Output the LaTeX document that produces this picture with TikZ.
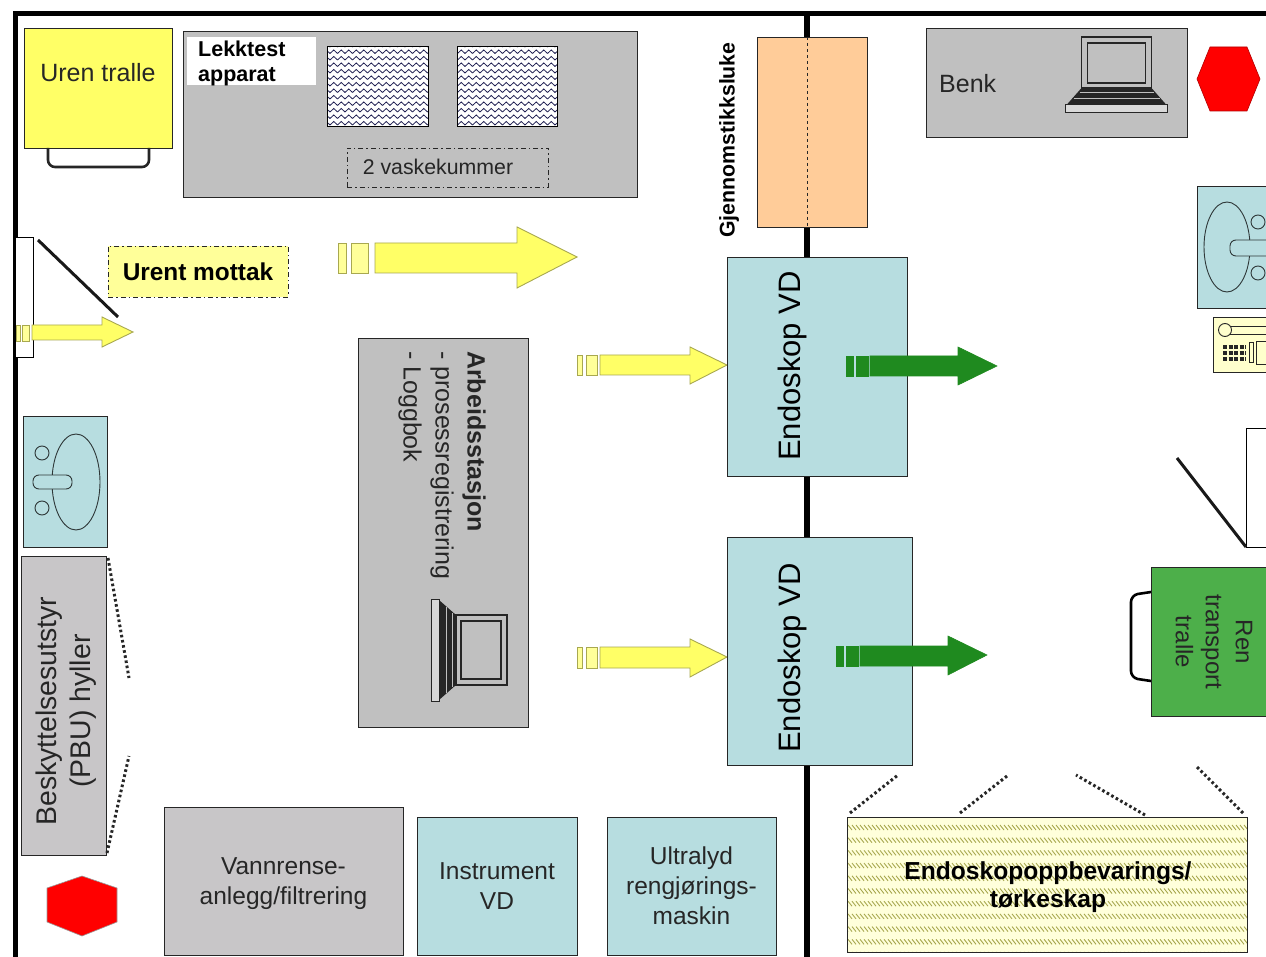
\documentclass[tikz,border=0pt]{standalone}
\usepackage{fontspec}
\setmainfont{Liberation Sans}
\usepackage{xcolor}
\usepackage{tikz}
\usetikzlibrary{positioning,patterns}

\definecolor{roomblue}{HTML}{B7DDE0}
\definecolor{roomgray}{HTML}{C0C0C0}
\definecolor{shelfgray}{HTML}{C8C6C8}
\definecolor{uren}{HTML}{FFFF66}
\definecolor{urenlight}{HTML}{FFFF99}
\definecolor{arrowedge}{HTML}{A8A850}
\definecolor{rengreen}{HTML}{4DAF4A}
\definecolor{darkgreen}{HTML}{1F8A1F}
\definecolor{luke}{HTML}{FFCC99}
\definecolor{phone}{HTML}{FFFFCC}
\definecolor{ink}{HTML}{262626}

\pgfdeclarepatternformonly{zigwave}{\pgfqpoint{-1pt}{-1pt}}{\pgfqpoint{8.5pt}{7.5pt}}{\pgfqpoint{7.5pt}{6.5pt}}{
  \pgfsetlinewidth{.8pt}
  \pgfpathmoveto{\pgfqpoint{0pt}{0pt}}
  \pgfpathlineto{\pgfqpoint{3.75pt}{3.5pt}}
  \pgfpathlineto{\pgfqpoint{7.5pt}{0pt}}
  \pgfusepath{stroke}
}
\pgfdeclarepatternformonly{bandhatch}{\pgfqpoint{-1pt}{-1pt}}{\pgfqpoint{5pt}{13.7pt}}{\pgfqpoint{4pt}{12.7pt}}{
  \pgfsetlinewidth{.9pt}
  \pgfpathmoveto{\pgfqpoint{0pt}{5pt}}
  \pgfpathlineto{\pgfqpoint{4pt}{0pt}}
  \pgfusepath{stroke}
}

\tikzset{
  fixture/.style={draw=ink, line width=.9pt, inner sep=0pt, align=center, text=ink},
  bluebox/.style={fixture, fill=roomblue},
  graybox/.style={fixture, fill=roomgray},
  dashbox/.style={draw=ink, line width=.8pt, dash pattern=on 5pt off 3pt on 1.5pt off 3pt, inner sep=0pt},
  wall/.style={line width=5pt, black},
  door/.style={line width=3pt, black!90},
  shelfdots/.style={line width=3pt, ink, dash pattern=on 2.6pt off 2.6pt},
  yflow/.style={draw=arrowedge, line width=.9pt, fill=uren},
  ystub/.style={draw=arrowedge, line width=.9pt, fill=urenlight},
  gflow/.style={draw=darkgreen, line width=.6pt, fill=darkgreen},
  sinkline/.style={draw=black!75!roomblue, line width=.9pt},
  alarm/.style={draw=red!70!black, line width=.6pt, fill=red},
  txtm/.style={font=\fontsize{24.5}{30}\selectfont, align=center, text=ink},
  txtb/.style={font=\fontsize{24.4}{28}\selectfont\bfseries},
  laptop/.pic={
    \draw[ink, line width=1pt, fill=roomgray!60!white] (-51,-8) rectangle (51,0);
    \fill[ink] (-35,-25) -- (35,-25) -- (50,-8) -- (-50,-8) -- cycle;
    \draw[roomgray, line width=.8pt] (-37,-21) -- (37,-21) (-43,-15) -- (43,-15);
    \draw[ink, line width=1.2pt, fill=roomgray] (-35,-76) rectangle (35,-25);
    \draw[ink, line width=1.2pt] (-29,-70) rectangle (29,-30);
  }
}

\begin{document}
\begin{tikzpicture}[x=1pt, y=-1pt]
\useasboundingbox (0,0) rectangle (1266,957);

% Walls
\draw[wall] (1266,14) -- (15,14) -- (15,957);
\draw[wall, line width=6pt] (807,14) -- (807,957);

% Top row
\node[fixture, fill=uren, minimum width=148pt, minimum height=120pt] (trolley) at (98,88) {};
\node[font=\fontsize{25}{30}\selectfont, text=ink] (trolleytxt) at (98,73) {Uren tralle};
\draw[ink, line width=2.6pt, rounded corners=7pt] (48,148) -- (48,167) -- (149,167) -- (149,148);
\node[graybox, minimum width=454pt, minimum height=166pt] (lekk) at (410,114) {};
\node[fill=white, minimum width=129pt, minimum height=48pt, inner sep=0pt] (lekkbg) at (251.5,61) {};
\node[font=\fontsize{21.5}{25}\selectfont\bfseries, align=left, anchor=west, inner sep=0pt] (lekktxt) at (198,63) {Lekktest\\apparat};
\node[draw=black, line width=1pt, preaction={fill=white}, pattern=zigwave, pattern color=ink!80!blue, minimum width=101pt, minimum height=80pt, inner sep=0pt] (kum1) at (377.5,87) {};
\node[draw=black, line width=1pt, preaction={fill=white}, pattern=zigwave, pattern color=ink!80!blue, minimum width=100pt, minimum height=80pt, inner sep=0pt] (kum2) at (507,87) {};
\node[dashbox, minimum width=201pt, minimum height=39pt] (kummer) at (447.5,167.5) {};
\node[font=\fontsize{21.3}{24}\selectfont, text=ink] (kummertxt) at (438,167) {2 vaskekummer};

% Hatch with the wall behind it
\node[fixture, fill=luke, minimum width=110pt, minimum height=190pt] (luke) at (812,132) {};
\draw[ink, line width=.9pt, dashed] (807,37) -- (807,227);
\node[rotate=90, font=\fontsize{21.3}{25}\selectfont\bfseries] (luketxt) at (729,140) {Gjennomstikksluke};

% Bench
\node[graybox, minimum width=261pt, minimum height=109pt] (benk) at (1056.5,82.5) {};
\node[font=\fontsize{25}{28}\selectfont, text=ink, anchor=west, inner sep=0pt] (benktxt) at (939,84) {Benk};
\pic at (1116.5,113) {laptop};
\draw[alarm] (1197,79) -- (1210,47) -- (1247,47) -- (1260,79) -- (1247,111) -- (1210,111) -- cycle;

% Entrance
\node[draw=black, fill=white, line width=.8pt, minimum width=18pt, minimum height=120pt, inner sep=0pt] (doorl) at (24,297) {};
\draw[door] (38,240) -- (118,317);
\node[dashbox, fill=urenlight, minimum width=180pt, minimum height=51pt, txtb] (mottak) at (198,271.5) {Urent mottak};

% Flow arrows, dirty side
\draw[ystub] (338,243) rectangle (346,273);
\draw[ystub] (351,243) rectangle (368,273);
\draw[yflow] (375,243) -- (517,243) -- (517,227) -- (577,257) -- (517,288) -- (517,273) -- (375,273) -- cycle;
\draw[ystub] (16,325) rectangle (20,341);
\draw[ystub] (22,325) rectangle (29,341);
\draw[yflow] (32,325) -- (102,325) -- (102,317) -- (133,332) -- (102,347) -- (102,340) -- (32,340) -- cycle;
\draw[ystub] (577,355) rectangle (582,375);
\draw[ystub] (586,355) rectangle (597,375);
\draw[yflow] (600,355) -- (690,355) -- (690,347) -- (727,365) -- (690,384) -- (690,375) -- (600,375) -- cycle;
\draw[ystub] (577,647) rectangle (582,668);
\draw[ystub] (586,647) rectangle (597,668);
\draw[yflow] (600,647) -- (690,647) -- (690,639) -- (727,657) -- (690,677) -- (690,668) -- (600,668) -- cycle;

% Work station
\node[graybox, minimum width=170pt, minimum height=389pt] (arbeid) at (443,532.5) {};
\node[rotate=-90, anchor=north west, align=left, inner sep=0pt, text=ink, font=\fontsize{25}{32}\selectfont] (arbeidtxt) at (486,351) {{\bfseries Arbeidsstasjon}\\- prosessregistrering\\- Loggbok};
\pic[rotate=-90] at (431,650) {laptop};

% Washers
\node[bluebox, minimum width=180pt, minimum height=219pt] (vd1) at (817,366.5) {};
\node[rotate=90, font=\fontsize{31}{36}\selectfont] (vd1txt) at (792,366) {Endoskop VD};
\node[bluebox, minimum width=185pt, minimum height=228pt] (vd2) at (819.5,651) {};
\node[rotate=90, font=\fontsize{31}{36}\selectfont] (vd2txt) at (792,658) {Endoskop VD};

% Flow arrows, clean side
\draw[gflow] (846,356) rectangle (853,376);
\draw[gflow] (856,356) rectangle (868,376);
\draw[gflow] (870,356) -- (958,356) -- (958,347) -- (997,366) -- (958,385) -- (958,376) -- (870,376) -- cycle;
\draw[gflow] (836,646) rectangle (843,666);
\draw[gflow] (846,646) rectangle (858,666);
\draw[gflow] (860,646) -- (948,646) -- (948,636) -- (987,655) -- (948,675) -- (948,666) -- (860,666) -- cycle;

% Sink, right
\node[bluebox, minimum width=75pt, minimum height=122pt] (sinkr) at (1234.5,247) {};
\draw[sinkline] (1227,247) ellipse (23 and 45);
\draw[sinkline] (1258,222) circle (7);
\draw[sinkline] (1258,273) circle (7);
\draw[sinkline, fill=roomblue, rounded corners=6pt] (1280,240) -- (1230,240) -- (1230,256) -- (1280,256);

% Phone
\node[fixture, fill=phone, minimum width=59pt, minimum height=55pt] (phone) at (1242.5,344.5) {};
\draw[ink, line width=.9pt] (1230,326) -- (1270,326) (1230,334) -- (1270,334);
\draw[ink, line width=.9pt, fill=phone] (1225,330) circle (6.5);
\draw[ink, line width=3.2pt, dash pattern=on 4pt off 1.5pt] (1223,347) -- (1246,347);
\draw[ink, line width=3.2pt, dash pattern=on 4pt off 1.5pt] (1223,353) -- (1246,353);
\draw[ink, line width=3.2pt, dash pattern=on 4pt off 1.5pt] (1223,359) -- (1246,359);
\draw[ink, line width=1pt] (1249,343) rectangle (1253,363);
\draw[ink, line width=1pt] (1256,342) rectangle (1272,365);

% Door, clean side
\node[draw=black, fill=white, line width=.8pt, minimum width=24pt, minimum height=119pt, inner sep=0pt] (doorr) at (1258,487.5) {};
\draw[door] (1177,458) -- (1246,547);

% Clean trolley
\draw[black, line width=2.6pt, rounded corners=7pt] (1151,592) -- (1131,595) -- (1131,678) -- (1151,681);
\node[fixture, fill=rengreen, minimum width=120pt, minimum height=149pt] (ren) at (1211,641.5) {};
\node[rotate=-90, align=center, text=ink, font=\fontsize{24}{30}\selectfont] (rentxt) at (1214,642) {Ren\\transport\\tralle};

% Sink, left
\node[bluebox, minimum width=84pt, minimum height=131pt] (sinkl) at (65,481.5) {};
\draw[sinkline] (76,482) ellipse (24 and 48);
\draw[sinkline] (42,453) circle (7);
\draw[sinkline] (42,508) circle (7);
\draw[sinkline, fill=roomblue, rounded corners=6pt] (33,475) rectangle (72,489);

% Shelves
\node[fixture, fill=shelfgray, minimum width=85pt, minimum height=299pt] (pbu) at (63.5,705.5) {};
\node[rotate=90, align=center, text=ink, font=\fontsize{28.4}{34.5}\selectfont] (pbutxt) at (66,711) {Beskyttelsesutstyr\\(PBU) hyller};
\draw[shelfdots] (108,558) -- (129,678);
\draw[shelfdots] (107,853) -- (129,756);
\draw[alarm, draw=black!40] (82,876) -- (117,888) -- (117,922) -- (82,936) -- (47,922) -- (47,888) -- cycle;

% Bottom row
\node[fixture, fill=shelfgray, minimum width=239pt, minimum height=148pt] (vann) at (283.5,881) {};
\node[txtm] (vanntxt) at (283.5,884) {Vannrense-\\anlegg/filtrering};
\node[bluebox, minimum width=160pt, minimum height=138pt, txtm] (instr) at (497,886) {Instrument\\VD};
\node[bluebox, minimum width=169pt, minimum height=138pt, txtm] (ultra) at (691.5,886) {Ultralyd\\rengjørings-\\maskin};

% Storage cabinet
\node[fixture, fill=phone!70!white, minimum width=400pt, minimum height=135pt] (skapbg) at (1047,884.5) {};
\node[draw=ink, line width=.9pt, pattern=bandhatch, pattern color=arrowedge, minimum width=400pt, minimum height=135pt, inner sep=0pt] (skap) at (1047,884.5) {};
\node[align=center, font=\fontsize{24.6}{28}\selectfont\bfseries] (skaptxt) at (1048,887) {Endoskopoppbevarings/\\tørkeskap};
\draw[shelfdots] (850,813) -- (898,775);
\draw[shelfdots] (960,813) -- (1007,776);
\draw[shelfdots] (1145,815) -- (1076,775);
\draw[shelfdots] (1243,813) -- (1197,767);

\end{tikzpicture}
\end{document}
